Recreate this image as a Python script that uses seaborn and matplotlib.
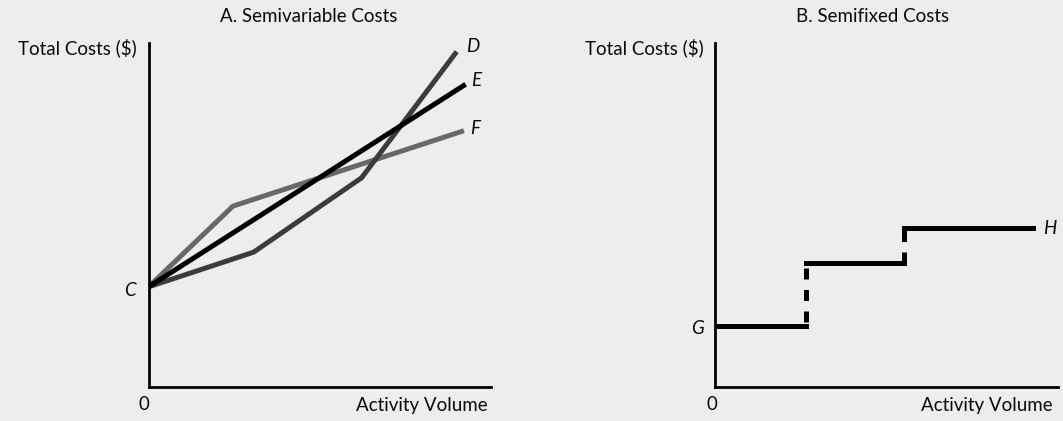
import matplotlib
matplotlib.use("Agg")
import matplotlib.pyplot as plt
import seaborn as sns

# Panel A: semivariable cost lines (axis units 0-10)
c_level = 2.91
line_d_x = [0, 3.07, 6.22, 9.00]
line_d_y = [c_level, 3.92, 6.08, 9.75]
line_e_x = [0, 9.26]
line_e_y = [c_level, 8.80]
line_f_x = [0, 2.47, 9.21]
line_f_y = [c_level, 5.26, 7.45]

# Panel B: semifixed cost steps
step_breaks = [0, 2.66, 5.52, 9.26]
step_levels = [1.77, 3.60, 4.62]

BG = "#ededed"
TXT = "#0a0a0a"
LW = 3.6
FS = 13.5

sns.set_theme(style="white")
plt.rcParams["font.family"] = ["Lato", "DejaVu Sans"]
plt.rcParams["axes.facecolor"] = BG
plt.rcParams["figure.facecolor"] = BG

W, H = 1063, 421
fig = plt.figure(figsize=(W / 100, H / 100), dpi=100)


def px_text(x, y, s, **kw):
    # place text by pixel position measured from the top-left corner
    fig.text(x / W, 1 - y / H, s, fontsize=FS, color=TXT, **kw)


def make_axes(left, right, bottom, top):
    ax = fig.add_axes([left / W, 1 - bottom / H, (right - left) / W, (bottom - top) / H])
    ax.set_xlim(0, 10)
    ax.set_ylim(0, 10)
    ax.set_xticks([])
    ax.set_yticks([])
    for side in ["top", "right"]:
        ax.spines[side].set_visible(False)
    for side in ["left", "bottom"]:
        ax.spines[side].set_color("black")
        ax.spines[side].set_linewidth(2.0)
    ax.set_facecolor(BG)
    return ax


# ---- Panel A ----
ax1 = make_axes(148.5, 491, 387, 43)
sns.lineplot(x=line_f_x, y=line_f_y, sort=False, estimator=None, ax=ax1,
             color="#686868", linewidth=LW, solid_capstyle="butt")
sns.lineplot(x=line_d_x, y=line_d_y, sort=False, estimator=None, ax=ax1,
             color="#3c3c3c", linewidth=LW, solid_capstyle="butt")
sns.lineplot(x=line_e_x, y=line_e_y, sort=False, estimator=None, ax=ax1,
             color="black", linewidth=LW, solid_capstyle="butt")

px_text(309, 16, "A. Semivariable Costs", ha="center", va="center")
px_text(137, 48, "Total Costs ($)", ha="right", va="center")
px_text(144, 405, "0", ha="center", va="center")
px_text(488, 406, "Activity Volume", ha="right", va="center")
px_text(466, 47, "D", ha="left", va="center", style="italic")
px_text(471, 81, "E", ha="left", va="center", style="italic")
px_text(470, 128, "F", ha="left", va="center", style="italic")
px_text(136, 290, "C", ha="right", va="center", style="italic")

# ---- Panel B ----
ax2 = make_axes(715, 1058, 387, 43)
for i, level in enumerate(step_levels):
    sns.lineplot(x=[step_breaks[i], step_breaks[i + 1]], y=[level, level],
                 sort=False, estimator=None, ax=ax2, color="black",
                 linewidth=LW, solid_capstyle="projecting")
# dashed risers between the steps
riser_styles = [(3.5, (2.2, 2.1)), (0, (2.2, 2.1))]
for i in range(len(step_levels) - 1):
    ax2.plot([step_breaks[i + 1], step_breaks[i + 1]],
             [step_levels[i], step_levels[i + 1]], color="black",
             linewidth=LW, linestyle=riser_styles[i], dash_capstyle="butt")

px_text(873, 16, "B. Semifixed Costs", ha="center", va="center")
px_text(704, 48, "Total Costs ($)", ha="right", va="center")
px_text(712, 405, "0", ha="center", va="center")
px_text(1053, 406, "Activity Volume", ha="right", va="center")
px_text(704, 328, "G", ha="right", va="center", style="italic")
px_text(1043, 228, "H", ha="left", va="center", style="italic")

for ax in (ax1, ax2):
    leg = ax.get_legend()
    if leg is not None:
        leg.remove()

fig.savefig("out.png", dpi=100, facecolor=BG)
